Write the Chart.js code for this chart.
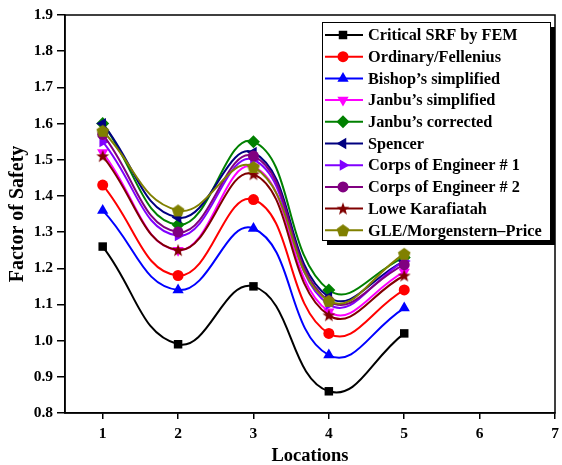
<!DOCTYPE html>
<html>
<head>
<meta charset="utf-8">
<script src="https://cdn.jsdelivr.net/npm/chart.js@4.4.0/dist/chart.umd.min.js"></script>
<style>
html,body{margin:0;padding:0;background:#fff;overflow:hidden;}
#wrap{width:562px;height:465px;position:relative;}
</style>
</head>
<body>
<div id="wrap"><canvas id="c" width="562" height="465"></canvas></div>
<script>
const locations = [1, 2, 3, 4, 5];
const seriesNames = ['Critical SRF by FEM','Ordinary/Fellenius','Bishop\u2019s simplified','Janbu\u2019s simplified','Janbu\u2019s corrected','Spencer','Corps of Engineer # 1','Corps of Engineer # 2','Lowe Karafiatah','GLE/Morgenstern\u2013Price'];
const criticalSRF = [1.26, 0.99, 1.15, 0.86, 1.02];
const ordinary    = [1.43, 1.18, 1.39, 1.02, 1.14];
const bishop      = [1.36, 1.14, 1.31, 0.96, 1.09];
const janbuSimp   = [1.52, 1.25, 1.48, 1.08, 1.19];
const janbuCorr   = [1.60, 1.32, 1.55, 1.14, 1.23];
const spencer     = [1.60, 1.34, 1.52, 1.12, 1.22];
const corps1      = [1.55, 1.29, 1.50, 1.10, 1.22];
const corps2      = [1.57, 1.30, 1.51, 1.11, 1.21];
const lowe        = [1.51, 1.25, 1.46, 1.07, 1.18];
const gle         = [1.58, 1.36, 1.48, 1.11, 1.24];
const xTickLabels = ['1','2','3','4','5','6','7'];
const yTickLabels = ['0.8','0.9','1.0','1.1','1.2','1.3','1.4','1.5','1.6','1.7','1.8','1.9'];

const allValues = [criticalSRF, ordinary, bishop, janbuSimp, janbuCorr, spencer, corps1, corps2, lowe, gle];
const colors = ['#000000','#ff0000','#0000ff','#ff00ff','#008000','#000080','#8000ff','#800080','#800000','#808000'];

function shapeCanvas(color, kind){
  const s = 14, cv = document.createElement('canvas');
  cv.width = s; cv.height = s;
  const g = cv.getContext('2d');
  g.fillStyle = color;
  g.beginPath();
  const cx = s/2, cy = s/2;
  if (kind === 'star'){
    for (let i=0;i<10;i++){
      const r = i%2===0 ? 6.8 : 2.8;
      const a = -Math.PI/2 + i*Math.PI/5;
      const px = cx + r*Math.cos(a), py = cy + 0.5 + r*Math.sin(a);
      i===0 ? g.moveTo(px,py) : g.lineTo(px,py);
    }
  } else {
    for (let i=0;i<5;i++){
      const a = -Math.PI/2 + i*2*Math.PI/5;
      const px = cx + 6.6*Math.cos(a), py = cy + 0.6 + 6.6*Math.sin(a);
      i===0 ? g.moveTo(px,py) : g.lineTo(px,py);
    }
  }
  g.closePath(); g.fill();
  return cv;
}
const styles = [
  {ps:'rect', r:6, rot:0},
  {ps:'circle', r:5.5, rot:0},
  {ps:'triangle', r:6.5, rot:0},
  {ps:'triangle', r:6.5, rot:180},
  {ps:'rectRot', r:6.5, rot:0},
  {ps:'triangle', r:6.5, rot:-90},
  {ps:'triangle', r:6.5, rot:90},
  {ps:'circle', r:5.5, rot:0},
  {ps:shapeCanvas('#800000','star'), r:7, rot:0},
  {ps:shapeCanvas('#808000','pent'), r:7, rot:0}
];

const datasets = allValues.map((vals, i) => ({
  label: seriesNames[i],
  data: locations.map((x, j) => ({x: x, y: vals[j]})),
  borderColor: colors[i],
  backgroundColor: colors[i],
  borderWidth: 2,
  pointStyle: styles[i].ps,
  pointRadius: styles[i].r,
  pointRotation: styles[i].rot,
  pointBorderWidth: 0,
  pointBackgroundColor: colors[i],
  tension: 0.45,
  order: -i,
  clip: false
}));

const FONT = 'Liberation Serif, Times New Roman, serif';

const framePlugin = {
  id: 'frame',
  afterDatasetsDraw(chart){
    const {ctx, chartArea:a} = chart;
    ctx.save();
    ctx.strokeStyle = '#000'; ctx.lineWidth = 1.5;
    ctx.strokeRect(a.left, a.top, a.right - a.left, a.bottom - a.top);
    ctx.restore();
  },
  afterDraw(chart){
    const ctx = chart.ctx;
    const bx = 322, by = 22, bw = 228, bh = 218, sh = 5;
    ctx.save();
    ctx.fillStyle = '#000';
    ctx.fillRect(bx + sh, by + sh, bw, bh);
    ctx.fillStyle = '#fff';
    ctx.fillRect(bx, by, bw, bh);
    ctx.strokeStyle = '#000'; ctx.lineWidth = 1;
    ctx.strokeRect(bx + 0.5, by + 0.5, bw, bh);
    ctx.font = 'bold 16.3px ' + FONT;
    ctx.textBaseline = 'middle';
    chart.data.datasets.forEach((ds, i) => {
      const y = 35 + i * 21.7;
      ctx.strokeStyle = ds.borderColor; ctx.lineWidth = 2;
      ctx.beginPath(); ctx.moveTo(325, y); ctx.lineTo(363, y); ctx.stroke();
      ctx.fillStyle = ds.borderColor;
      Chart.helpers.drawPoint(ctx, {pointStyle: ds.pointStyle, radius: ds.pointRadius, rotation: ds.pointRotation, borderWidth: 0}, 343, y);
      ctx.fillStyle = '#000';
      ctx.fillText(ds.label, 368, y + 1);
    });
    ctx.restore();
  }
};

new Chart(document.getElementById('c'), {
  type: 'line',
  data: { datasets },
  options: {
    responsive: false,
    animation: false,
    devicePixelRatio: 1,
    layout: { padding: { top: 15, right: 3, left: 0, bottom: 0 } },
    plugins: { legend: { display: false }, tooltip: { enabled: false } },
    scales: {
      x: {
        type: 'linear', min: 0.5, max: 7,
        afterBuildTicks: s => { s.ticks = xTickLabels.map(t => ({value: Number(t)})); },
        ticks: { color: '#000', font: { family: FONT, size: 15.5, weight: 'bold' }, padding: 6, maxRotation: 0,
          callback: (v) => xTickLabels[xTickLabels.indexOf(String(v))] },
        grid: { drawOnChartArea: false, tickLength: 6, color: '#000', lineWidth: 1.5 },
        border: { color: '#000', width: 1.5 },
        title: { display: true, text: 'Locations', color: '#000', font: { family: FONT, size: 18.5, weight: 'bold', lineHeight: 1.0 }, padding: { top: 0, bottom: 0 } },
        afterFit: s => { s.height = 52; s.paddingLeft = 0; s.paddingRight = 0; }
      },
      y: {
        type: 'linear', min: 0.8, max: 1.9,
        afterBuildTicks: s => { s.ticks = yTickLabels.map(t => ({value: Number(t)})); },
        ticks: { color: '#000', font: { family: FONT, size: 15.5, weight: 'bold' }, padding: 4,
          callback: (v) => yTickLabels.find(t => Math.abs(Number(t) - v) < 1e-6) },
        grid: { drawOnChartArea: false, tickLength: 8, color: '#000', lineWidth: 1.5 },
        border: { color: '#000', width: 1.5 },
        title: { display: true, text: 'Factor of Safety', color: '#000', font: { family: FONT, size: 20, weight: 'bold', lineHeight: 1.0 }, padding: { top: 8, bottom: 2 } },
        afterFit: s => { s.width = 65; s.paddingTop = 0; s.paddingBottom = 0; }
      }
    }
  },
  plugins: [framePlugin]
});
</script>
</body>
</html>
